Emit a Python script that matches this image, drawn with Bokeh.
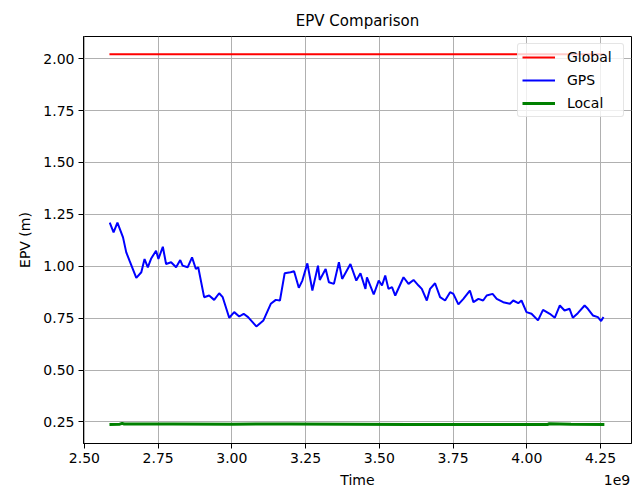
from bokeh.plotting import figure
from bokeh.models import (Range1d, FixedTicker, Legend, LegendItem,
                          NumeralTickFormatter, LinearAxis)
from bokeh.embed import file_html
from bokeh.resources import INLINE

# ---- data (time in units of 1e9) ----
global_t = [2.585, 4.263]
global_v = [2.022, 2.022]

gps_t = [2.586, 2.599, 2.612, 2.631, 2.642, 2.653, 2.676, 2.693, 2.704, 2.715,
         2.726, 2.743, 2.751, 2.766, 2.777, 2.794, 2.811, 2.825, 2.833, 2.850,
         2.865, 2.878, 2.886, 2.906, 2.923, 2.940, 2.957, 2.969, 2.991, 3.008,
         3.025, 3.040, 3.055, 3.083, 3.107, 3.132, 3.149, 3.163, 3.179, 3.199,
         3.211, 3.227, 3.239, 3.256, 3.273, 3.292, 3.298, 3.318, 3.329, 3.346,
         3.363, 3.374, 3.402, 3.422, 3.436, 3.453, 3.458, 3.481, 3.498, 3.509,
         3.520, 3.531, 3.543, 3.554, 3.582, 3.599, 3.616, 3.633, 3.644, 3.661,
         3.672, 3.689, 3.706, 3.723, 3.740, 3.751, 3.768, 3.785, 3.807, 3.819,
         3.836, 3.852, 3.864, 3.884, 3.898, 3.920, 3.943, 3.954, 3.971, 3.982,
         3.999, 4.016, 4.038, 4.055, 4.078, 4.095, 4.112, 4.128, 4.145, 4.156,
         4.173, 4.196, 4.207, 4.224, 4.241, 4.252, 4.260]
gps_v = [1.210, 1.163, 1.210, 1.139, 1.067, 1.027, 0.944, 0.971, 1.035, 0.995,
         1.036, 1.075, 1.035, 1.094, 1.011, 1.019, 0.995, 1.030, 1.003, 0.995,
         1.043, 0.987, 0.995, 0.851, 0.859, 0.838, 0.870, 0.851, 0.752, 0.779,
         0.758, 0.771, 0.755, 0.710, 0.739, 0.819, 0.838, 0.835, 0.966, 0.971,
         0.976, 0.896, 0.931, 1.014, 0.883, 1.003, 0.934, 0.987, 0.923, 0.915,
         1.019, 0.939, 1.011, 0.931, 0.966, 0.891, 0.947, 0.864, 0.931, 0.907,
         0.955, 0.891, 0.899, 0.859, 0.947, 0.915, 0.934, 0.907, 0.891, 0.835,
         0.891, 0.918, 0.851, 0.835, 0.875, 0.867, 0.816, 0.843, 0.883, 0.827,
         0.843, 0.835, 0.859, 0.867, 0.843, 0.827, 0.819, 0.835, 0.822, 0.835,
         0.779, 0.771, 0.739, 0.790, 0.771, 0.752, 0.811, 0.787, 0.795, 0.752,
         0.774, 0.811, 0.795, 0.763, 0.755, 0.736, 0.755]

local_t = [2.585, 2.620, 2.628, 2.635, 2.800, 3.000, 3.200, 3.400, 3.600,
           3.800, 4.000, 4.070, 4.075, 4.150, 4.263]
local_v = [0.238, 0.239, 0.243, 0.240, 0.240, 0.239, 0.240, 0.239, 0.238,
           0.238, 0.237, 0.237, 0.241, 0.239, 0.238]

x_ticks = [2.50, 2.75, 3.00, 3.25, 3.50, 3.75, 4.00, 4.25]
y_ticks = [0.25, 0.50, 0.75, 1.00, 1.25, 1.50, 1.75, 2.00]
x_label = "Time"
x_offset_text = "1e9"

FONT = "DejaVu Sans"
X0, X1 = 2.497, 4.355

p = figure(width=635, height=491, output_backend="svg", toolbar_location=None,
           x_range=Range1d(X0, X1), y_range=Range1d(0.146, 2.107),
           min_border_left=83, min_border_right=4, min_border_top=36,
           min_border_bottom=48, title="EPV Comparison")

p.title.align = "center"
p.title.text_font = FONT
p.title.text_font_size = "15px"
p.title.text_font_style = "normal"
p.title.text_color = "#000000"
p.title.standoff = 14

p.outline_line_color = "#000000"
p.outline_line_width = 1
p.background_fill_color = "white"
p.border_fill_color = "white"

for ax in (p.xaxis[0], p.yaxis[0]):
    ax.major_label_text_font = FONT
    ax.major_label_text_font_size = "14px"
    ax.major_label_text_color = "#000000"
    ax.axis_label_text_font = FONT
    ax.axis_label_text_font_size = "14px"
    ax.axis_label_text_font_style = "normal"
    ax.axis_label_text_color = "#000000"
    ax.minor_tick_line_color = None
    ax.major_tick_in = 0
    ax.major_tick_out = 5
    ax.major_tick_line_color = "#000000"
    ax.axis_line_color = "#000000"
    ax.formatter = NumeralTickFormatter(format="0.00")

p.xaxis.ticker = FixedTicker(ticks=x_ticks)
p.yaxis.ticker = FixedTicker(ticks=y_ticks)
p.yaxis.axis_label = "EPV (m)"
p.xaxis.major_label_standoff = 4
p.yaxis.major_label_standoff = 4
p.yaxis.axis_label_standoff = 7

# second (text-only) bottom axis carrying "Time" and the "1e9" offset text on one row
mid = (X0 + X1) / 2
off_pos = 4.306
lab_axis = LinearAxis(ticker=FixedTicker(ticks=[mid, off_pos]),
                      major_label_overrides={mid: x_label, off_pos: x_offset_text},
                      major_tick_line_color=None, minor_tick_line_color=None,
                      major_tick_out=0, major_tick_in=0,
                      axis_line_color=None, major_label_standoff=6,
                      major_label_text_font=FONT, major_label_text_font_size="14px",
                      major_label_text_color="#000000")
p.add_layout(lab_axis, "below")

p.grid.grid_line_color = "#b0b0b0"
p.grid.grid_line_width = 1

r_global = p.line(global_t, global_v, line_color="#ff0000", line_width=2)
r_gps = p.line(gps_t, gps_v, line_color="#0000ff", line_width=2)
r_local = p.line(local_t, local_v, line_color="#008000", line_width=3)

legend = Legend(items=[LegendItem(label="Global", renderers=[r_global]),
                       LegendItem(label="GPS", renderers=[r_gps]),
                       LegendItem(label="Local", renderers=[r_local])],
                location="top_right")
legend.label_text_font = FONT
legend.label_text_font_size = "14px"
legend.label_text_color = "#000000"
legend.glyph_width = 33
legend.glyph_height = 18
legend.label_standoff = 12
legend.label_width = 52
legend.spacing = 5
legend.padding = 4
legend.margin = 7
legend.border_line_color = "#cccccc"
legend.border_line_width = 1
legend.border_radius = 3
legend.background_fill_alpha = 0.8
p.add_layout(legend)

open("out.html", "w").write(file_html(p, INLINE))
